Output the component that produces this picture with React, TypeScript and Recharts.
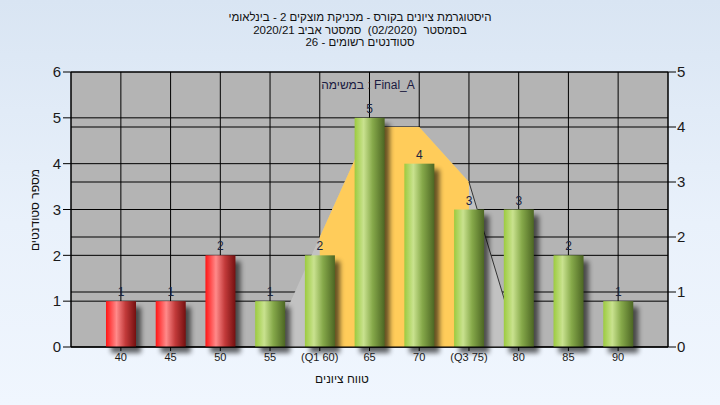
import React from "react";
import { ComposedChart, Bar, Area, XAxis, YAxis, CartesianGrid, LabelList } from "recharts";

const grades = ["40", "45", "50", "55", "(Q1 60)", "65", "70", "(Q3 75)", "80", "85", "90"];
const gradeValues = [40, 45, 50, 55, 60, 65, 70, 75, 80, 85, 90];
const students = [1, 1, 2, 1, 2, 5, 4, 3, 3, 2, 1];
const passMark = 55;
// distribution curve on the right axis
const curveOuter = [null, null, null, 0, 2, 4, 4, 3, 0, null, null];
const curveInner = [null, null, null, null, 2, 4, 4, 3, null, null, null];
const curveTail = [null, null, null, null, null, null, null, 3, 0, null, null];
const leftTicks = [0, 1, 2, 3, 4, 5, 6];
const rightTicks = [0, 1, 2, 3, 4, 5];

const data = grades.map((label, i) => ({
  label,
  grade: gradeValues[i],
  students: students[i],
  outer: curveOuter[i],
  inner: curveInner[i],
  tail: curveTail[i],
}));

const FONT = "'Liberation Sans', Arial, sans-serif";

function BarShape(props: any) {
  const { x, y, width, height, payload } = props;
  if (!height || height <= 0) return null;
  const fail = payload.grade < passMark;
  return (
    <g>
      <rect x={x + 5} y={y + 6} width={width} height={height} fill="#000" opacity={0.6} filter="url(#barShadow)" />
      <rect x={x} y={y} width={width} height={height} fill={fail ? "url(#gradRed)" : "url(#gradGreen)"} />
    </g>
  );
}

export default function App() {
  return (
    <div
      style={{
        position: "absolute",
        left: 0,
        top: 0,
        width: 720,
        height: 405,
        background: "linear-gradient(to bottom, #d9e5f3 0%, #e9f1fb 55%, #f0f6fe 100%)",
        fontFamily: FONT,
        overflow: "hidden",
      }}
    >
      <ComposedChart width={720} height={405} data={data} margin={{ top: 72, right: 0, left: 0, bottom: 0 }} barCategoryGap={0}>
        <defs>
          <linearGradient id="gradGreen" x1="0" y1="0" x2="1" y2="0">
            <stop offset="0%" stopColor="#9ccb3f" />
            <stop offset="30%" stopColor="#c9e28f" />
            <stop offset="60%" stopColor="#86a94a" />
            <stop offset="100%" stopColor="#4c6623" />
          </linearGradient>
          <linearGradient id="gradRed" x1="0" y1="0" x2="1" y2="0">
            <stop offset="0%" stopColor="#ff1515" />
            <stop offset="35%" stopColor="#ff8a8a" />
            <stop offset="65%" stopColor="#c23a3a" />
            <stop offset="100%" stopColor="#741010" />
          </linearGradient>
          <filter id="barShadow" x="-50%" y="-20%" width="200%" height="140%">
            <feGaussianBlur stdDeviation="2.5" />
          </filter>
        </defs>
        <CartesianGrid yAxisId="left" stroke="#000" strokeOpacity={1} fill="#b4b4b4" fillOpacity={1} />
        <CartesianGrid yAxisId="right" stroke="#000" vertical={false} />
        <XAxis
          dataKey="label"
          interval={0}
          height={58}
          padding={{ left: 25, right: 25 }}
          axisLine={{ stroke: "#000" }}
          tickLine={{ stroke: "#000" }}
          tickSize={4}
          tick={{ fontSize: 11, fill: "#1a1a1a", fontFamily: FONT }}
        />
        <YAxis
          yAxisId="left"
          domain={[0, 6]}
          ticks={leftTicks}
          width={71}
          axisLine={{ stroke: "#000" }}
          tickLine={{ stroke: "#000" }}
          tickSize={8}
          tickMargin={2}
          tick={{ fontSize: 15, fill: "#1a1a1a", fontFamily: FONT }}
        />
        <YAxis
          yAxisId="right"
          orientation="right"
          domain={[0, 5]}
          ticks={rightTicks}
          width={52}
          axisLine={{ stroke: "#000" }}
          tickLine={{ stroke: "#000" }}
          tickSize={8}
          tickMargin={1}
          tick={{ fontSize: 15, fill: "#1a1a1a", fontFamily: FONT }}
        />
        <Area yAxisId="right" type="linear" dataKey="outer" stroke="none" fill="#c2c2c2" fillOpacity={1} isAnimationActive={false} />
        <Area yAxisId="right" type="linear" dataKey="inner" stroke="none" fill="#ffcc5a" fillOpacity={1} isAnimationActive={false} />
        <Area yAxisId="right" type="linear" dataKey="tail" stroke="#333" strokeWidth={1} fill="none" dot={false} activeDot={false} isAnimationActive={false} />
        <Bar yAxisId="left" dataKey="students" barSize={30} shape={BarShape} isAnimationActive={false}>
          <LabelList dataKey="students" position="top" offset={5} style={{ fontSize: 12, fill: "#1a2440", fontFamily: FONT }} />
        </Bar>
      </ComposedChart>

      <div
        style={{
          position: "absolute",
          left: 0,
          top: 11,
          width: 720,
          textAlign: "center",
          fontSize: 11.5,
          lineHeight: "12.5px",
          color: "#111",
        }}
      >
        <div>היסטוגרמת ציונים בקורס - מכניקת מוצקים 2 - בינלאומי</div>
        <div>בסמסטר&nbsp; (02/2020)&nbsp; סמסטר אביב 2020/21</div>
        <div>סטודנטים רשומים - 26</div>
      </div>

      <div
        style={{
          position: "absolute",
          left: 268,
          top: 78,
          width: 200,
          textAlign: "center",
          fontSize: 12,
          color: "#1a1a40",
          direction: "ltr",
        }}
      >
        במשימה : Final_A
      </div>

      <div
        style={{
          position: "absolute",
          left: 35 - 60,
          top: 210 - 8,
          width: 120,
          height: 16,
          lineHeight: "16px",
          textAlign: "center",
          fontSize: 12,
          color: "#111",
          transform: "rotate(-90deg)",
        }}
      >
        מספר סטודנטים
      </div>

      <div
        style={{
          position: "absolute",
          left: 342 - 60,
          top: 372,
          width: 120,
          textAlign: "center",
          fontSize: 12,
          color: "#111",
        }}
      >
        טווח ציונים
      </div>
    </div>
  );
}
